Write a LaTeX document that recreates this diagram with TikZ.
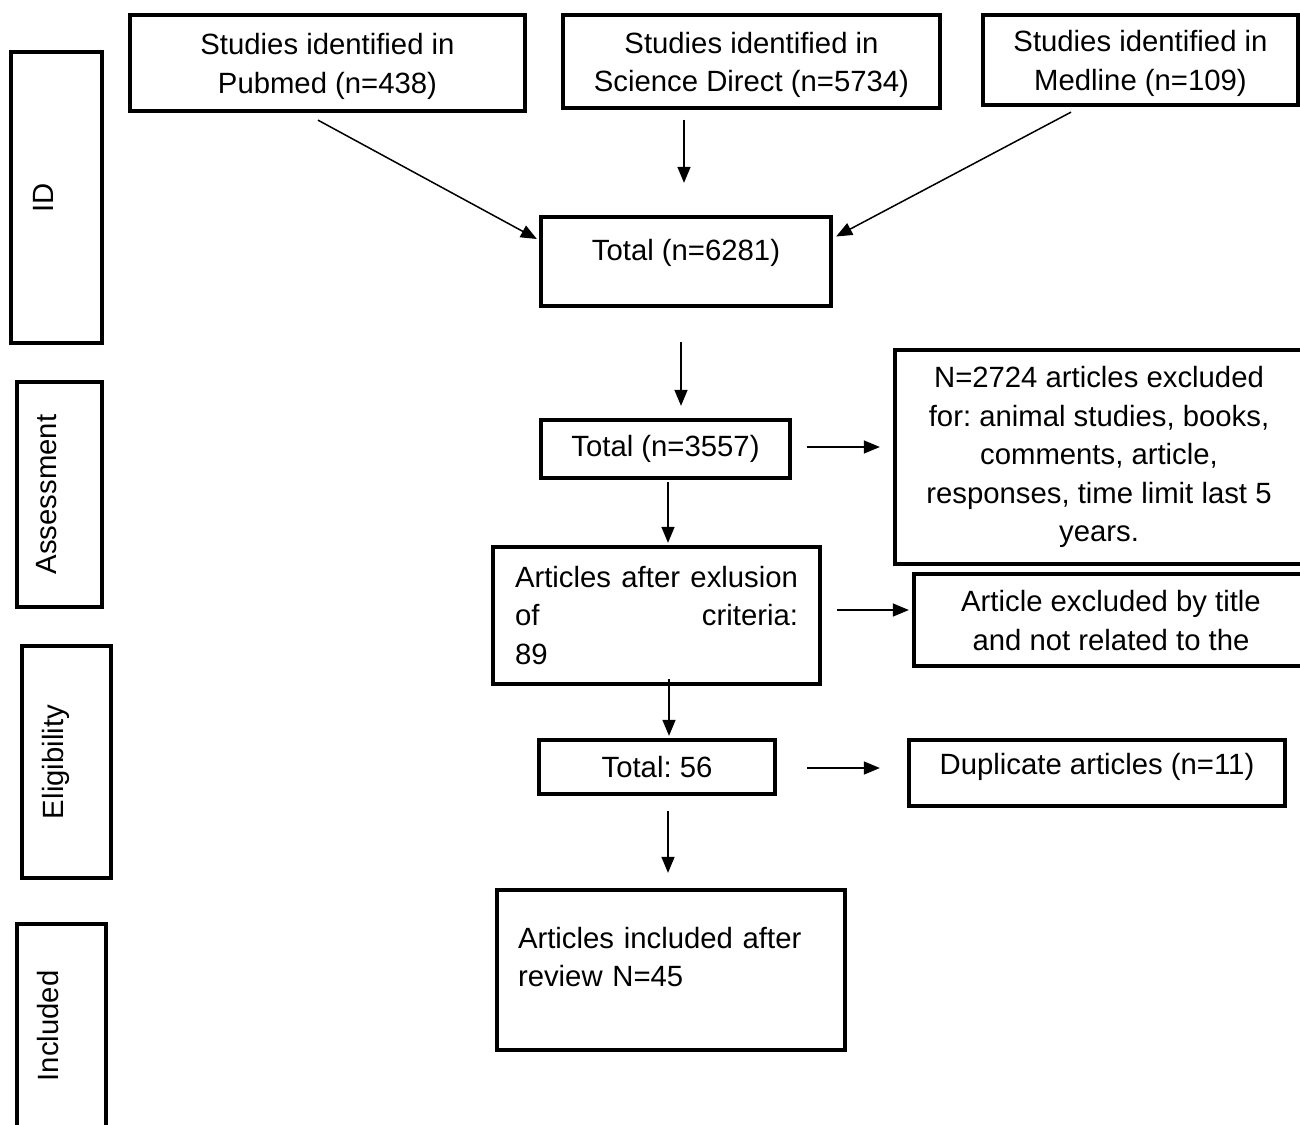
\documentclass[tikz,border=0pt]{standalone}
\usepackage{fontspec}
\setmainfont{Liberation Sans}
\usetikzlibrary{arrows.meta,calc}
\frenchspacing

\begin{document}
\begin{tikzpicture}[
  x=1pt, y=-1pt,
  box/.style={rectangle, draw=black, line width=4.3pt, inner sep=0pt, align=center,
    font=\fontsize{29.3pt}{38.5pt}\selectfont},
  twoline/.style={text height=60pt, text depth=0pt},
  stagebox/.style={box, rotate=90, text height=20pt, text depth=26pt},
  arrow/.style={-{Triangle[length=16pt, width=13pt]}, line width=1.5pt}
]
\clip (0,0) rectangle (1300,1124);

% Stage labels on the left
\node[stagebox, minimum width=291pt, minimum height=91pt] (id_stage) at (56.5,197.5) {ID};
\node[stagebox, minimum width=225pt, minimum height=85pt] (assess_stage) at (59.5,494.5) {Assessment};
\node[stagebox, minimum width=232pt, minimum height=89pt] (elig_stage) at (66.5,762) {Eligibility};
\node[stagebox, minimum width=204pt, minimum height=89pt] (incl_stage) at (61.5,1026) {Included};

% Identification
\node[box, twoline, minimum width=395pt, minimum height=96pt] (pubmed_src) at (327.5,63) {Studies identified in\\Pubmed (n=438)};
\node[box, twoline, minimum width=377pt, minimum height=93pt] (scidir_src) at (751.5,61.5) {Studies identified in\\Science Direct (n=5734)};
\node[box, twoline, minimum width=315pt, minimum height=90pt] (medline_src) at (1140.5,60) {Studies identified in\\Medline (n=109)};
\node[box, minimum width=290pt, minimum height=89pt, text height=21pt, text depth=24pt] (total_id) at (686,261.5) {Total (n=6281)};

\draw[arrow] ($(pubmed_src.south)+(-9.5,7)$) -- ($(total_id.west)+(-2,-22.5)$);
\draw[arrow] ($(scidir_src.south)+(-67.5,9.5)$) -- ($(total_id.north)+(-2,-32)$);
\draw[arrow] ($(medline_src.south)+(-69.5,5)$) -- ($(total_id.east)+(3,-25)$);

% Assessment
\node[box, minimum width=249pt, minimum height=58pt] (total_assess) at (665.5,449) {Total (n=3557)};
\node[box, minimum width=408pt, minimum height=214pt] (excl_animal) at (1099,457)
  {N=2724 articles excluded\\for: animal studies, books,\\comments, article,\\responses, time limit last 5\\years.};
\node[box, minimum width=327pt, minimum height=137pt, text width=283pt, align=left] (after_crit) at (656.5,615.5)
  {Articles\hfill after\hfill exlusion\\of\hfill criteria:\\89};
\node[box, twoline, minimum width=394pt, minimum height=92pt] (excl_title) at (1111,620) {Article excluded by title\\and not related to the};

\draw[arrow] ($(total_id.south)+(-5,34)$) -- ($(total_assess.north)+(15.5,-12)$);
\draw[arrow] ($(total_assess.east)+(15,-2)$) -- ($(excl_animal.west)+(-13,-10)$);
\draw[arrow] ($(total_assess.south)+(2.5,2)$) -- ($(after_crit.north)+(11.5,-2)$);
\draw[arrow] ($(after_crit.east)+(15,-5.5)$) -- ($(excl_title.west)+(-3,-10)$);

% Eligibility
\node[box, minimum width=236pt, minimum height=54pt] (total_elig) at (657,767) {Total: 56};
\node[box, minimum width=376pt, minimum height=66pt, text height=21pt, text depth=19pt] (dupl_art) at (1097,773) {Duplicate articles (n=11)};

\draw[arrow] ($(after_crit.south)+(12.5,-7)$) -- ($(total_elig.north)+(12,-2)$);
\draw[arrow] ($(total_elig.east)+(30,1)$) -- ($(dupl_art.west)+(-27,-5)$);

% Included
\node[box, minimum width=348pt, minimum height=160pt, text width=306pt, align=left, text height=21pt, text depth=65pt] (incl_art) at (671,970)
  {Articles included after\\review N=45};

\draw[arrow] ($(total_elig.south)+(11,15)$) -- ($(incl_art.north)+(-3,-15)$);

\end{tikzpicture}
\end{document}
